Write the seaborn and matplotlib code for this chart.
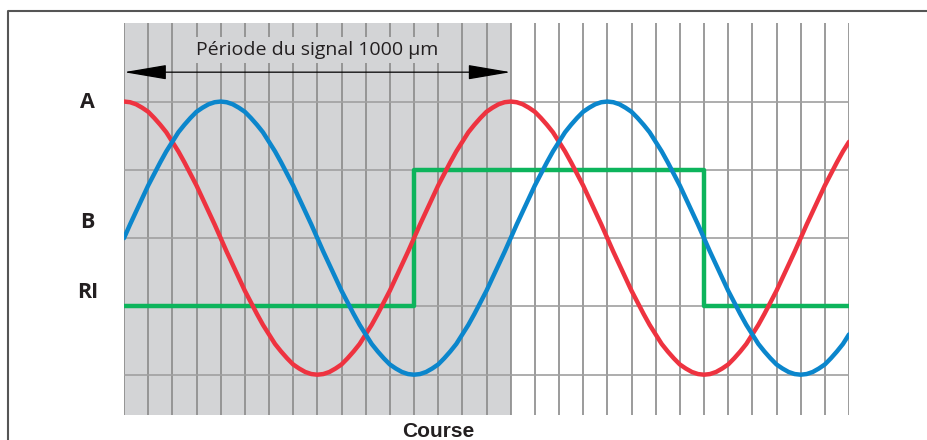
import numpy as np
import seaborn as sns
import matplotlib.pyplot as plt
from matplotlib.lines import Line2D
from matplotlib.transforms import blended_transform_factory

# Course positions in µm (sampled every quarter grid step of 15.625 µm)
course = np.arange(0, 1875.1, 15.625)

# Signal A (red) at each quarter grid step
signal_a = [2.00, 1.99, 1.96, 1.91, 1.85, 1.76, 1.66, 1.55, 1.41, 1.27, 1.11, 0.94, 0.77, 0.58, 0.39, 0.20, 0.00,
            -0.20, -0.39, -0.58, -0.77, -0.94, -1.11, -1.27, -1.41, -1.55, -1.66, -1.76, -1.85, -1.91, -1.96, -1.99, -2.00,
            -1.99, -1.96, -1.91, -1.85, -1.76, -1.66, -1.55, -1.41, -1.27, -1.11, -0.94, -0.77, -0.58, -0.39, -0.20, 0.00,
            0.20, 0.39, 0.58, 0.77, 0.94, 1.11, 1.27, 1.41, 1.55, 1.66, 1.76, 1.85, 1.91, 1.96, 1.99, 2.00,
            1.99, 1.96, 1.91, 1.85, 1.76, 1.66, 1.55, 1.41, 1.27, 1.11, 0.94, 0.77, 0.58, 0.39, 0.20, 0.00,
            -0.20, -0.39, -0.58, -0.77, -0.94, -1.11, -1.27, -1.41, -1.55, -1.66, -1.76, -1.85, -1.91, -1.96, -1.99, -2.00,
            -1.99, -1.96, -1.91, -1.85, -1.76, -1.66, -1.55, -1.41, -1.27, -1.11, -0.94, -0.77, -0.58, -0.39, -0.20, 0.00,
            0.20, 0.39, 0.58, 0.77, 0.94, 1.11, 1.27, 1.41]

# Signal B (blue)
signal_b = [0.00, 0.20, 0.39, 0.58, 0.77, 0.94, 1.11, 1.27, 1.41, 1.55, 1.66, 1.76, 1.85, 1.91, 1.96, 1.99, 2.00,
            1.99, 1.96, 1.91, 1.85, 1.76, 1.66, 1.55, 1.41, 1.27, 1.11, 0.94, 0.77, 0.58, 0.39, 0.20, 0.00,
            -0.20, -0.39, -0.58, -0.77, -0.94, -1.11, -1.27, -1.41, -1.55, -1.66, -1.76, -1.85, -1.91, -1.96, -1.99, -2.00,
            -1.99, -1.96, -1.91, -1.85, -1.76, -1.66, -1.55, -1.41, -1.27, -1.11, -0.94, -0.77, -0.58, -0.39, -0.20, 0.00,
            0.20, 0.39, 0.58, 0.77, 0.94, 1.11, 1.27, 1.41, 1.55, 1.66, 1.76, 1.85, 1.91, 1.96, 1.99, 2.00,
            1.99, 1.96, 1.91, 1.85, 1.76, 1.66, 1.55, 1.41, 1.27, 1.11, 0.94, 0.77, 0.58, 0.39, 0.20, 0.00,
            -0.20, -0.39, -0.58, -0.77, -0.94, -1.11, -1.27, -1.41, -1.55, -1.66, -1.76, -1.85, -1.91, -1.96, -1.99, -2.00,
            -1.99, -1.96, -1.91, -1.85, -1.76, -1.66, -1.55, -1.41]

# Reference pulse RI (green), step breakpoints
ri_course = [0, 750, 1500, 1875]
ri_level = [-1, 1, -1, -1]

period = 1000
grid_step = 62.5
row_levels = [-2, -1, 0, 1, 2]
label_names = ["A", "B", "RI"]
label_levels = [1.99, 0.23, -0.79]

red = "#ee3340"
blue = "#0b86cc"
green = "#0db45c"
shade = "#d3d4d6"

sns.set_style("white")
plt.rcParams["font.family"] = ["Open Sans", "DejaVu Sans"]

fig = plt.figure(figsize=(9.27, 4.4), dpi=100)
ax = fig.add_axes([124 / 927, 25 / 440, 725 / 927, 392 / 440])

# shaded period
ax.axvspan(0, period, color=shade, lw=0, zorder=0.5)

sns.lineplot(x=course, y=signal_a, color=red, lw=3.2, ax=ax, zorder=3)
sns.lineplot(x=course, y=signal_b, color=blue, lw=3.2, ax=ax, zorder=3)
sns.lineplot(x=ri_course, y=ri_level, color=green, lw=3.2, ax=ax,
             estimator=None, sort=False, drawstyle="steps-post", zorder=2.8)

ax.set_xlim(0, 1875)
ax.set_ylim(-2.59, 3.15)
ax.set_xticks(np.arange(0, 1875.1, grid_step))
ax.set_yticks(row_levels)
ax.tick_params(length=0, labelbottom=False, labelleft=False)
for s in ax.spines.values():
    s.set_visible(False)

# vertical grid over full height, horizontal only on the signal rows
ax.xaxis.grid(True, color="#8a8a8a", lw=1.2, zorder=1)
ax.yaxis.grid(True, color="#a0a0a0", lw=1.2, zorder=1)

# period arrow
ax.annotate("", xy=(period, 2.43), xytext=(0, 2.43),
            arrowprops=dict(arrowstyle="<|-|>,head_length=1.35,head_width=0.23",
                            color="black", lw=0.9, shrinkA=0, shrinkB=0,
                            mutation_scale=20),
            zorder=4)
ax.text(499, 2.75, "Période du signal 1000 µm", ha="center", va="center",
        fontsize=14, color="#231f20", zorder=4,
        bbox=dict(facecolor=shade, edgecolor="none", pad=3))

trans = blended_transform_factory(ax.transAxes, ax.transData)
for name, lev in zip(label_names, label_levels):
    ax.text(-0.05, lev, name, transform=trans, ha="center", va="center",
            fontsize=15.5, fontweight="bold", color="#231f20")

fig.text(438 / 927, 1 - 431 / 440, "Course", ha="center", va="center",
         fontsize=15, fontweight="bold", family="Liberation Sans", color="#231f20")

# outer frame (open on right and bottom)
fig.add_artist(Line2D([8 / 927, 8 / 927, 1], [0, 1 - 11 / 440, 1 - 11 / 440],
                      transform=fig.transFigure, color="#555555", lw=1.5))

fig.savefig("out.png", dpi=100)
